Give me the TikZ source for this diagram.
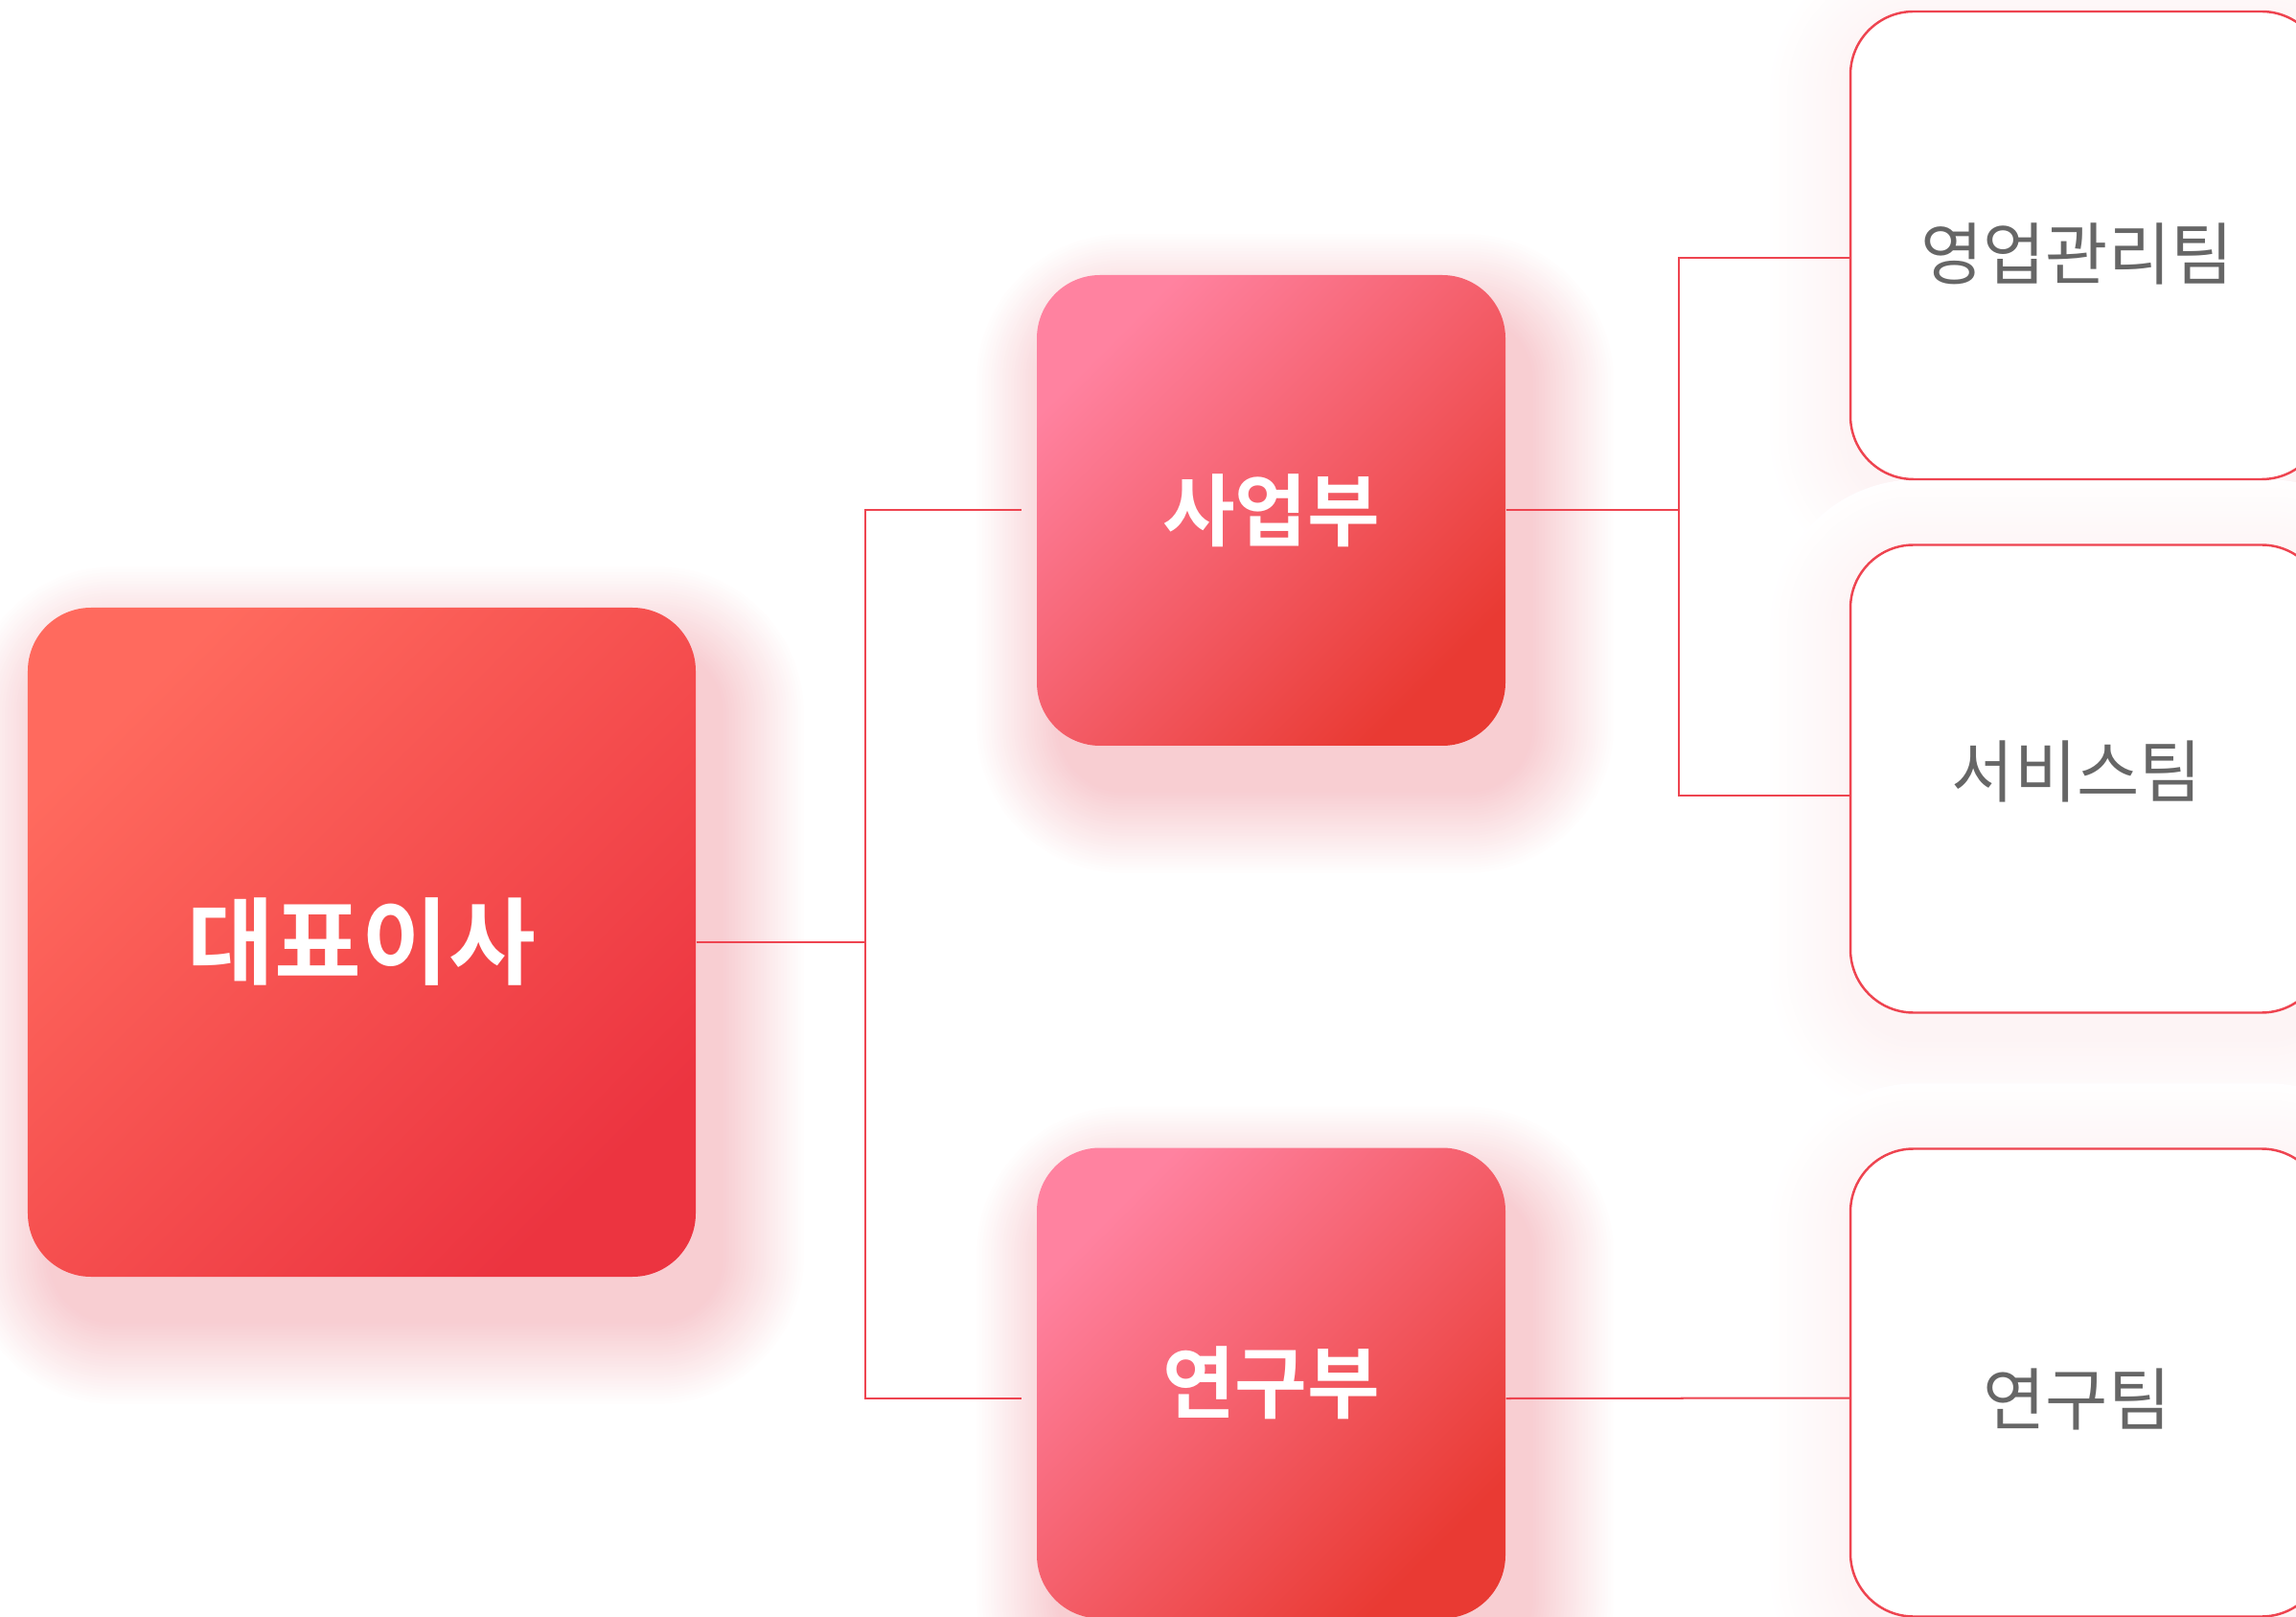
\documentclass[tikz,border=0pt]{standalone}
\usepackage{fontspec}
\newfontfamily\krfont{Noto Sans CJK KR}[BoldFont={Noto Sans CJK KR Bold}]
\usetikzlibrary{backgrounds}

\definecolor{ceoA}{HTML}{FF6A5E}
\definecolor{ceoB}{HTML}{EC3440}
\definecolor{deptA}{HTML}{FF82A0}
\definecolor{deptB}{HTML}{E93A33}
\definecolor{linkred}{HTML}{EE4450}
\definecolor{teamgray}{HTML}{666666}
\definecolor{shadowpink}{HTML}{E23A4C}

% soft shadow: node, strength (percent), xshift, drop
\newcommand\boxglow[4]{%
  \foreach \r in {0.87,0.84,...,0.03}{
    \pgfmathsetmacro\pct{#2*(1-\r/0.9)}
    \fill[shadowpink!\pct!white, rounded corners=0.66cm+\r cm]
      ([shift={(-\r+#3,-\r-#4)}]#1.south west) rectangle ([shift={(\r+#3,\r-#4)}]#1.north east);
  }}

\tikzset{
  boxbase/.style={rectangle, rounded corners=0.66cm, inner sep=0pt, align=center},
  ceobox/.style={boxbase, minimum width=6.97cm, minimum height=6.98cm,
    top color=ceoA, bottom color=ceoB, shading angle=45, text=white,
    font=\krfont\bfseries\fontsize{28.1}{32}\selectfont},
  deptbox/.style={boxbase, minimum width=4.89cm, minimum height=4.91cm,
    top color=deptA, bottom color=deptB, shading angle=45, text=white,
    font=\krfont\bfseries\fontsize{23.4}{28}\selectfont},
  teambox/.style={boxbase, minimum width=4.95cm, minimum height=4.88cm,
    draw=linkred, line width=0.7pt, fill=white},
  teamtext/.style={inner sep=0pt, text=teamgray, font=\krfont\fontsize{20.2}{24}\selectfont},
  link/.style={draw=linkred, line width=0.57pt}
}

\begin{document}
\begin{tikzpicture}
\def\gap{0.15}

\clip (0,0) rectangle (23.96,-16.87);

%%%%%%%%%%%%%-------------boxes
\node[ceobox] (ceo) at (3.775,-9.83) {대표이사};

\node[deptbox] (biz) at (13.265,-5.325) {사업부};
\node[deptbox] (lab) at (13.265,-14.43) {연구부};

\node[teambox] (sales) at (21.785,-2.56) {};
\node[teambox] (service) at (21.785,-8.125) {};
\node[teambox] (rnd) at (21.785,-14.425) {};

\node[teamtext] (salesT) at ([shift={(-0.11,-0.09)}]sales) {영업관리팀};
\node[teamtext] (serviceT) at ([shift={(-0.11,0.08)}]service) {서비스팀};
\node[teamtext] (rndT) at ([shift={(-0.11,-0.17)}]rnd) {연구팀};

%%%%%%%%%%%%%-------------lines
\coordinate (hubA) at ([xshift=1.76cm]ceo.east);
\coordinate (hubB) at ([xshift=1.8cm]biz.east);

\draw[link] (ceo.east) -- (hubA);
\draw[link] (hubA) |- ([xshift=-\gap cm]biz.west);
\draw[link] (hubA) |- ([xshift=-\gap cm, yshift=-0.16cm]lab.west);

\draw[link] (biz.east) -- (hubB);
\draw[link] (hubB) |- ([yshift=-0.13cm]sales.west);
\draw[link] (hubB) |- ([yshift=-0.18cm]service.west);

\draw[link] ([yshift=-0.16cm]lab.east) -- ([yshift=-0.16cm]rnd.west);

%%%%%%%%%%%%%-------------shadows
\begin{scope}[on background layer]
\fill[white] (0,0) rectangle (23.96,-16.87);
\boxglow{sales}{6}{0.05}{0.2}
\boxglow{service}{6}{0.05}{0.2}
\boxglow{rnd}{6}{0.05}{0.2}
\boxglow{ceo}{26}{0.25}{0.45}
\boxglow{biz}{26}{0.25}{0.45}
\boxglow{lab}{26}{0.25}{0.45}
\end{scope}

\end{tikzpicture}
\end{document}
